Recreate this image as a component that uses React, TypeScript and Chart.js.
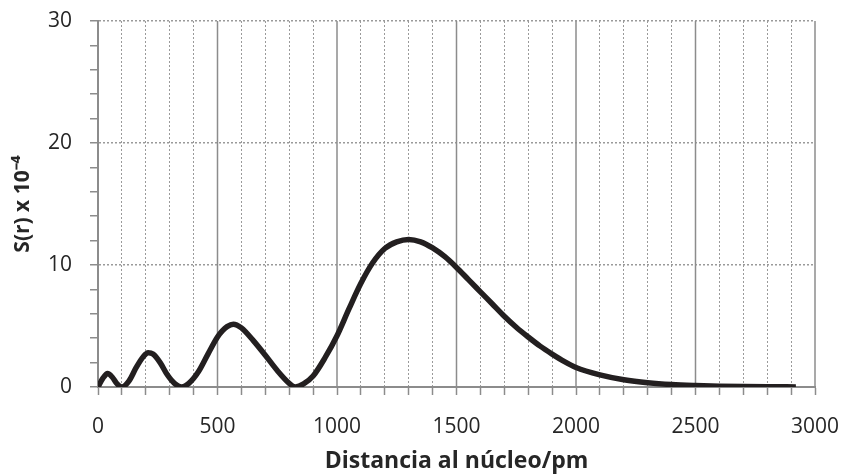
import React, { useEffect, useRef } from "react";
import { Chart, registerables } from "chart.js";

Chart.register(...registerables);

// Distance to the nucleus (pm)
const distances: number[] = [
  0, 20, 40, 60, 80, 100, 130, 160, 190, 210, 230, 260, 290, 320, 350, 380, 420, 460,
  500, 520, 540, 566, 600, 650, 700, 750, 800, 825, 860, 900, 950, 1000, 1050, 1100, 1150,
  1200, 1250, 1300, 1350, 1400, 1450, 1500, 1550, 1600, 1650, 1700, 1750, 1800, 1850,
  1900, 1950, 2000, 2100, 2200, 2300, 2400, 2500, 2600, 2700, 2800, 2920,
];
// S(r) x 10^-4
const sValues: number[] = [
  0, 0.7, 1.1, 0.8, 0.25, 0, 0.5, 1.6, 2.5, 2.8, 2.7, 2.0, 1.0, 0.3, 0, 0.3, 1.25, 2.7,
  4.1, 4.6, 4.95, 5.15, 4.85, 3.8, 2.6, 1.35, 0.3, 0, 0.25, 0.9, 2.4, 4.2, 6.4, 8.5, 10.2,
  11.35, 11.9, 12.1, 11.9, 11.4, 10.7, 9.8, 8.8, 7.8, 6.8, 5.8, 4.9, 4.1, 3.35,
  2.7, 2.1, 1.6, 1.0, 0.6, 0.35, 0.2, 0.12, 0.07, 0.04, 0.02, 0.01,
];

const xMajorTicks: number[] = [0, 500, 1000, 1500, 2000, 2500, 3000];
const yMajorTicks: number[] = [0, 10, 20, 30];

const xTitle = "Distancia al núcleo/pm";
const yTitle = "S(r) x 10⁻⁴";

const GRID = "#9a9a9a";
const AXIS = "#8c8c8c";
const TEXT = "#262626";

const majorXGrid = {
  id: "majorXGrid",
  beforeDatasetsDraw(chart: any) {
    const { ctx, chartArea, scales } = chart;
    const xs = scales.x;
    ctx.save();
    ctx.strokeStyle = AXIS;
    ctx.lineWidth = 1.5;
    for (const v of xMajorTicks) {
      if (v === 0) continue;
      const px = xs.getPixelForValue(v);
      ctx.beginPath();
      ctx.moveTo(px, chartArea.top);
      ctx.lineTo(px, chartArea.bottom);
      ctx.stroke();
    }
    ctx.restore();
  },
};

export default function App() {
  const ref = useRef<HTMLCanvasElement | null>(null);
  useEffect(() => {
    if (!ref.current) return;
    const chart = new Chart(ref.current, {
      type: "line",
      data: {
        datasets: [
          {
            data: distances.map((d, i) => ({ x: d, y: sValues[i] })),
            borderColor: "#231f20",
            borderWidth: 5.5,
            pointRadius: 0,
            cubicInterpolationMode: "monotone",
            fill: false,
          },
        ],
      },
      plugins: [majorXGrid],
      options: {
        animation: false,
        responsive: false,
        layout: { padding: { top: 21, right: 29, bottom: 0, left: 0 } },
        plugins: { legend: { display: false }, tooltip: { enabled: false } },
        scales: {
          x: {
            type: "linear",
            min: 0,
            max: 3000,
            afterFit: (s: any) => {
              s.height = 88;
              s.paddingLeft = 0;
              s.paddingRight = 0;
            },
            ticks: {
              stepSize: 100,
              autoSkip: false,
              maxRotation: 0,
              padding: 19,
              color: TEXT,
              font: { family: "Open Sans", size: 21 },
              callback: (v: any) => (xMajorTicks.includes(Number(v)) ? String(v) : ""),
            },
            grid: {
              color: (c: any) =>
                c.tick && xMajorTicks.includes(c.tick.value) ? "transparent" : GRID,
              lineWidth: 1,
              tickColor: AXIS,
              tickWidth: 1.5,
              tickLength: 8,
            },
            border: { display: true, color: AXIS, width: 2, dash: [2, 2] },
            title: {
              display: true,
              text: xTitle,
              color: TEXT,
              font: { family: "Open Sans", size: 23, weight: "bold" },
              padding: { top: 0, bottom: 0 },
            },
          },
          y: {
            type: "linear",
            min: 0,
            max: 30,
            afterFit: (s: any) => {
              s.width = 98;
              s.paddingTop = 0;
              s.paddingBottom = 0;
            },
            ticks: {
              stepSize: 2,
              autoSkip: false,
              padding: 18,
              color: TEXT,
              font: { family: "Open Sans", size: 21 },
              callback: (v: any) => (yMajorTicks.includes(Number(v)) ? String(v) : ""),
            },
            grid: {
              color: (c: any) =>
                c.tick && yMajorTicks.includes(c.tick.value) && c.tick.value !== 0
                  ? GRID
                  : "transparent",
              lineWidth: 1.5,
              tickColor: AXIS,
              tickWidth: 1.5,
              tickLength: 8,
            },
            border: { display: true, color: AXIS, width: 2, dash: [2, 2] },
            title: {
              display: true,
              text: yTitle,
              color: TEXT,
              font: { family: "Open Sans", size: 21, weight: "bold" },
              padding: { top: 10, bottom: 0 },
            },
          },
        },
      },
    } as any);
    return () => chart.destroy();
  }, []);
  return (
    <div style={{ position: "fixed", left: 0, top: 0, width: 844, height: 475, background: "#fff" }}>
      <canvas ref={ref} width={844} height={475} />
    </div>
  );
}
